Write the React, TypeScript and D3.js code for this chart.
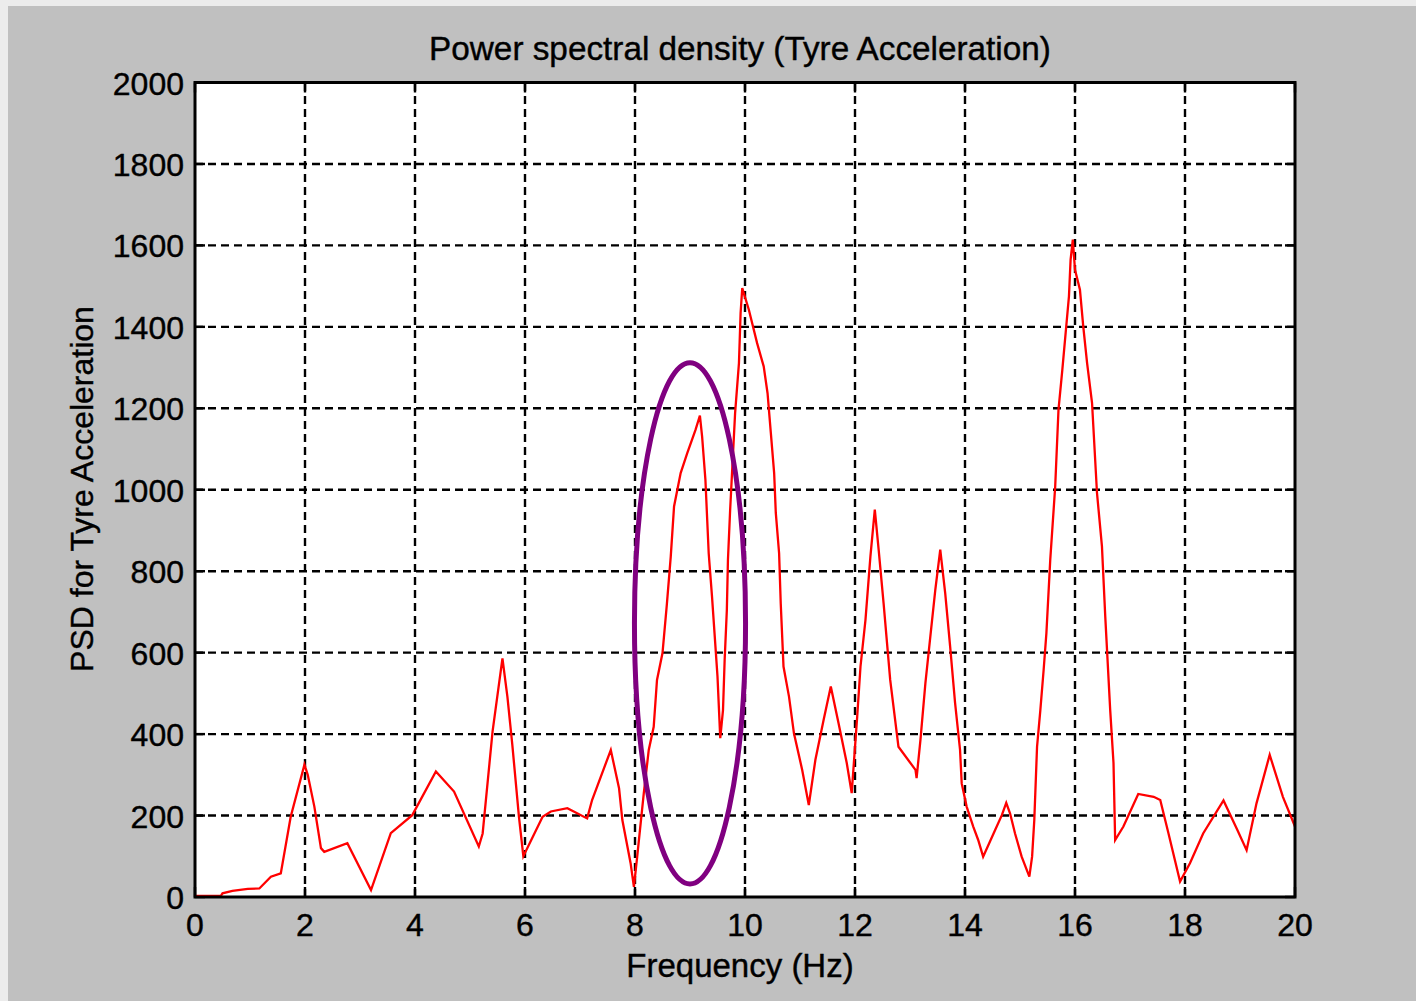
import React from "react";
import * as d3 from "d3";

const freq = [
  0, 0.47, 0.5, 0.68, 0.96, 1.17, 1.38, 1.56, 1.74, 1.99, 2.05, 2.17, 2.29, 2.35, 2.77, 3.2, 3.56, 3.95,
  4.38, 4.71, 5.16, 5.23, 5.41, 5.59, 5.68, 5.77, 5.89, 5.97, 6.32, 6.47, 6.77, 7.13, 7.22, 7.56, 7.71,
  7.77, 7.92, 7.98, 8.04, 8.16, 8.25, 8.34, 8.4, 8.5, 8.58, 8.65, 8.71, 8.83, 8.95, 9.1, 9.18, 9.22, 9.28,
  9.34, 9.4, 9.5, 9.55, 9.6, 9.63, 9.67, 9.69, 9.73, 9.82, 9.89, 9.92, 9.95, 10.07, 10.22, 10.34, 10.41,
  10.47, 10.53, 10.56, 10.62, 10.65, 10.7, 10.8, 10.89, 11.04, 11.16, 11.28, 11.43, 11.56, 11.7, 11.85,
  11.94, 12.04, 12.1, 12.19, 12.28, 12.36, 12.43, 12.52, 12.64, 12.76, 12.79, 13.1, 13.12, 13.19, 13.28,
  13.37, 13.46, 13.55, 13.64, 13.73, 13.82, 13.91, 13.94, 14.03, 14.15, 14.24, 14.33, 14.55, 14.67, 14.75,
  14.82, 14.91, 15.03, 15.17, 15.22, 15.26, 15.31, 15.37, 15.43, 15.48, 15.55, 15.64, 15.7, 15.77, 15.83,
  15.89, 15.92, 15.96, 16.0, 16.09, 16.15, 16.22, 16.31, 16.4, 16.49, 16.55, 16.64, 16.7, 16.73, 16.88,
  17.15, 17.43, 17.55, 17.7, 17.91, 18.09, 18.33, 18.7, 18.95, 19.12, 19.3, 19.54, 19.78, 20.0,
];

const psd = [
  3, 3, 9, 15, 20, 21, 50, 58, 197, 325, 300, 222, 120, 111, 132, 17, 157, 201,
  308, 259, 124, 156, 406, 586, 492, 373, 197, 100, 197, 210, 218, 193, 238, 361, 267,
  189, 83, 25, 99, 255, 361, 418, 533, 599, 720, 836, 959, 1041, 1090, 1147, 1182, 1131, 1025,
  844, 738, 541, 390, 459, 582, 705, 828, 951, 1188, 1311, 1434, 1495, 1442, 1360, 1303, 1237,
  1139, 1041, 943, 844, 720, 566, 492, 402, 312, 226, 337, 435, 517, 427, 329,
  255, 443, 566, 680, 836, 951, 853, 721, 533, 402, 369, 312, 292, 386, 525,
  640, 754, 853, 746, 615, 476, 361, 279, 222, 173, 140, 99, 165, 201, 231,
  205, 156, 99, 50, 99, 189, 369, 459, 558, 648, 828, 1008, 1197, 1295, 1385,
  1475, 1565, 1614, 1540, 1491, 1401, 1311, 1213, 992, 861, 689, 459, 329, 140, 173,
  253, 246, 238, 156, 38, 83, 156, 237, 165, 115, 230, 349, 246, 173,
];

const xTicks = [0, 2, 4, 6, 8, 10, 12, 14, 16, 18, 20];
const yTicks = [0, 200, 400, 600, 800, 1000, 1200, 1400, 1600, 1800, 2000];

const titleText = "Power spectral density (Tyre Acceleration)";
const xLabelText = "Frequency (Hz)";
const yLabelText = "PSD for Tyre Acceleration";

// highlight ellipse in data coordinates: [fMin, fMax], [vMin, vMax]
const ellipseFreq = [7.99, 10.01];
const ellipsePsd = [32, 1312];

export default function App() {
  const W = 1416;
  const H = 1001;
  const left = 195;
  const right = 1295;
  const top = 82.5;
  const bottom = 897;

  const x = d3.scaleLinear().domain([0, 20]).range([left, right]);
  const y = d3.scaleLinear().domain([0, 2000]).range([bottom, top]);

  const pts = freq.map((f, i) => [f, psd[i]] as [number, number]);
  const line = d3
    .line<[number, number]>()
    .x((d) => x(d[0]))
    .y((d) => y(d[1]));

  const ecx = x((ellipseFreq[0] + ellipseFreq[1]) / 2);
  const ecy = y((ellipsePsd[0] + ellipsePsd[1]) / 2);
  const erx = (x(ellipseFreq[1]) - x(ellipseFreq[0])) / 2;
  const ery = (y(ellipsePsd[0]) - y(ellipsePsd[1])) / 2;

  const font = "'Liberation Sans', Arial, sans-serif";
  const tickLen = 10;
  const txtStroke = { stroke: "#000", strokeWidth: 0.4 };

  return (
    <svg
      width={W}
      height={H}
      style={{ position: "absolute", left: 0, top: 0, display: "block" }}
      fontFamily={font}
    >
      <rect x={0} y={0} width={W} height={H} fill="#ececec" />
      <rect x={8} y={6} width={W - 8} height={H - 6} fill="#c0c0c0" />
      <rect x={left} y={top} width={right - left} height={bottom - top} fill="#ffffff" />

      {/* grid */}
      <g stroke="#000" strokeWidth={2.4} strokeDasharray="8,5">
        {xTicks.slice(1, -1).map((t) => (
          <line key={"gx" + t} x1={x(t)} x2={x(t)} y1={bottom} y2={top} />
        ))}
        {yTicks.slice(1, -1).map((t) => (
          <line key={"gy" + t} x1={left} x2={right} y1={y(t)} y2={y(t)} />
        ))}
      </g>

      {/* ticks */}
      <g stroke="#000" strokeWidth={2.4}>
        {xTicks.map((t) => (
          <g key={"tx" + t}>
            <line x1={x(t)} x2={x(t)} y1={bottom} y2={bottom - tickLen} />
            <line x1={x(t)} x2={x(t)} y1={top} y2={top + tickLen} />
          </g>
        ))}
        {yTicks.map((t) => (
          <g key={"ty" + t}>
            <line x1={left} x2={left + tickLen} y1={y(t)} y2={y(t)} />
            <line x1={right} x2={right - tickLen} y1={y(t)} y2={y(t)} />
          </g>
        ))}
      </g>

      {/* data */}
      <path d={line(pts) || ""} fill="none" stroke="#ff0000" strokeWidth={2.3} strokeLinejoin="miter" />

      {/* annotation ellipse */}
      <ellipse cx={ecx} cy={ecy} rx={erx} ry={ery} fill="none" stroke="#800080" strokeWidth={5} />

      {/* frame */}
      <rect x={left} y={top} width={right - left} height={bottom - top} fill="none" stroke="#000" strokeWidth={3} />

      {/* tick labels */}
      <g fontSize={32} fill="#000" {...txtStroke}>
        {xTicks.map((t) => (
          <text key={"lx" + t} x={x(t)} y={936} textAnchor="middle">
            {t}
          </text>
        ))}
        {yTicks.map((t) => (
          <text key={"ly" + t} x={184} y={y(t) + 12} textAnchor="end">
            {t}
          </text>
        ))}
      </g>

      <text x={740} y={60} textAnchor="middle" fontSize={33.3} fill="#000" {...txtStroke}>
        {titleText}
      </text>
      <text x={740} y={977} textAnchor="middle" fontSize={33} fill="#000" {...txtStroke}>
        {xLabelText}
      </text>
      <text
        transform={`translate(93,489) rotate(-90)`}
        textAnchor="middle"
        fontSize={32}
        fill="#000"
        {...txtStroke}
      >
        {yLabelText}
      </text>
    </svg>
  );
}
